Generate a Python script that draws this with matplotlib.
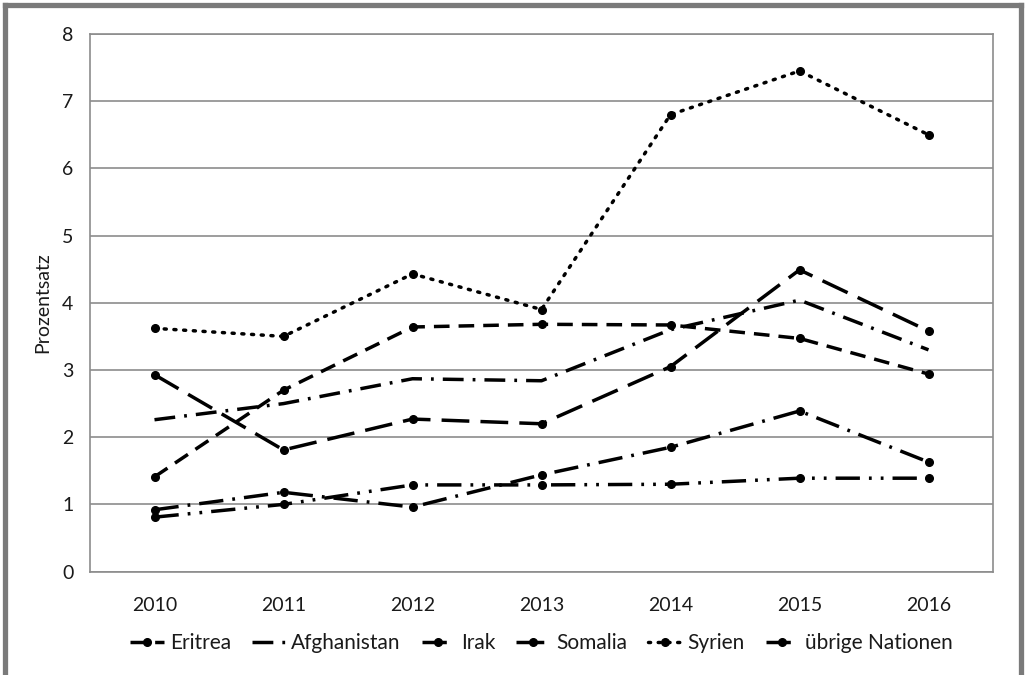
import matplotlib
matplotlib.use("Agg")
import matplotlib.pyplot as plt
from matplotlib.lines import Line2D

plt.rcParams['font.family'] = ['Lato', 'DejaVu Sans']

years = ['2010', '2011', '2012', '2013', '2014', '2015', '2016']
eritrea = [1.41, 2.70, 3.64, 3.68, 3.67, 3.47, 2.94]
afghanistan = [2.26, 2.50, 2.87, 2.84, 3.60, 4.04, 3.30]
irak = [0.92, 1.18, 0.96, 1.44, 1.85, 2.39, 1.63]
somalia = [2.93, 1.81, 2.27, 2.20, 3.05, 4.49, 3.58]
syrien = [3.62, 3.50, 4.43, 3.90, 6.80, 7.45, 6.50]
uebrige = [0.81, 1.00, 1.29, 1.29, 1.30, 1.39, 1.39]

fig = plt.figure(figsize=(10.27, 6.75), dpi=100)
ax = fig.add_axes([90/1027, 1 - 571.6/675, 903/1027, 537.6/675])

x = range(len(years))
lw = 2.5
ms = 5.5
ax.plot(x, eritrea, color='black', lw=lw, dashes=(4.5, 2.6), marker='o', ms=ms, label='Eritrea')
ax.plot(x, afghanistan, color='black', lw=lw, dashes=(6, 2.6, 0.8, 2.6), label='Afghanistan')
ax.plot(x, irak, color='black', lw=lw, dashes=(7, 2.6, 0.8, 2.6), marker='o', ms=ms, label='Irak')
ax.plot(x, somalia, color='black', lw=lw, dashes=(8, 3.2), marker='o', ms=ms, label='Somalia')
ax.plot(x, syrien, color='black', lw=lw, dashes=(0.6, 2.2), dash_capstyle='round', marker='o', ms=ms, label='Syrien')
ax.plot(x, uebrige, color='black', lw=lw, dashes=(7, 2.6, 0.8, 2.6, 0.8, 2.6), marker='o', ms=ms, label='übrige Nationen')

ax.set_xlim(-0.5, len(years) - 0.5)
ax.set_ylim(0, 8)
ax.set_xticks(list(x))
ax.set_xticklabels(years)
ax.set_yticks(range(0, 9))
ax.tick_params(length=0, labelsize=14, pad=12, labelcolor='#1a1a1a')
ax.tick_params(axis='x', pad=18)
ax.grid(axis='y', color='#8c8c8c', lw=1.2)
ax.set_axisbelow(True)
for s in ax.spines.values():
    s.set_color('#8c8c8c')
    s.set_linewidth(1.2)
ax.set_ylabel('Prozentsatz', fontsize=14, labelpad=8, color='#1a1a1a')

leg = ax.legend(loc='upper center', bbox_to_anchor=(0.5, -0.08), ncol=6, frameon=False,
                fontsize=15, handlelength=1.6, handletextpad=0.3, columnspacing=1.0)
for t in leg.get_texts():
    t.set_color('#1a1a1a')

# grey frame around the figure (open at the bottom)
c = '#7a7a7a'
fig.add_artist(Line2D([5/1027, 5/1027], [0, 1 - 5/675], color=c, lw=3.8, transform=fig.transFigure))
fig.add_artist(Line2D([5/1027, 1021/1027], [1 - 5/675, 1 - 5/675], color=c, lw=3.8, transform=fig.transFigure))
fig.add_artist(Line2D([1021/1027, 1021/1027], [0, 1 - 5/675], color=c, lw=3.8, transform=fig.transFigure))

fig.savefig('out.png', dpi=100)
